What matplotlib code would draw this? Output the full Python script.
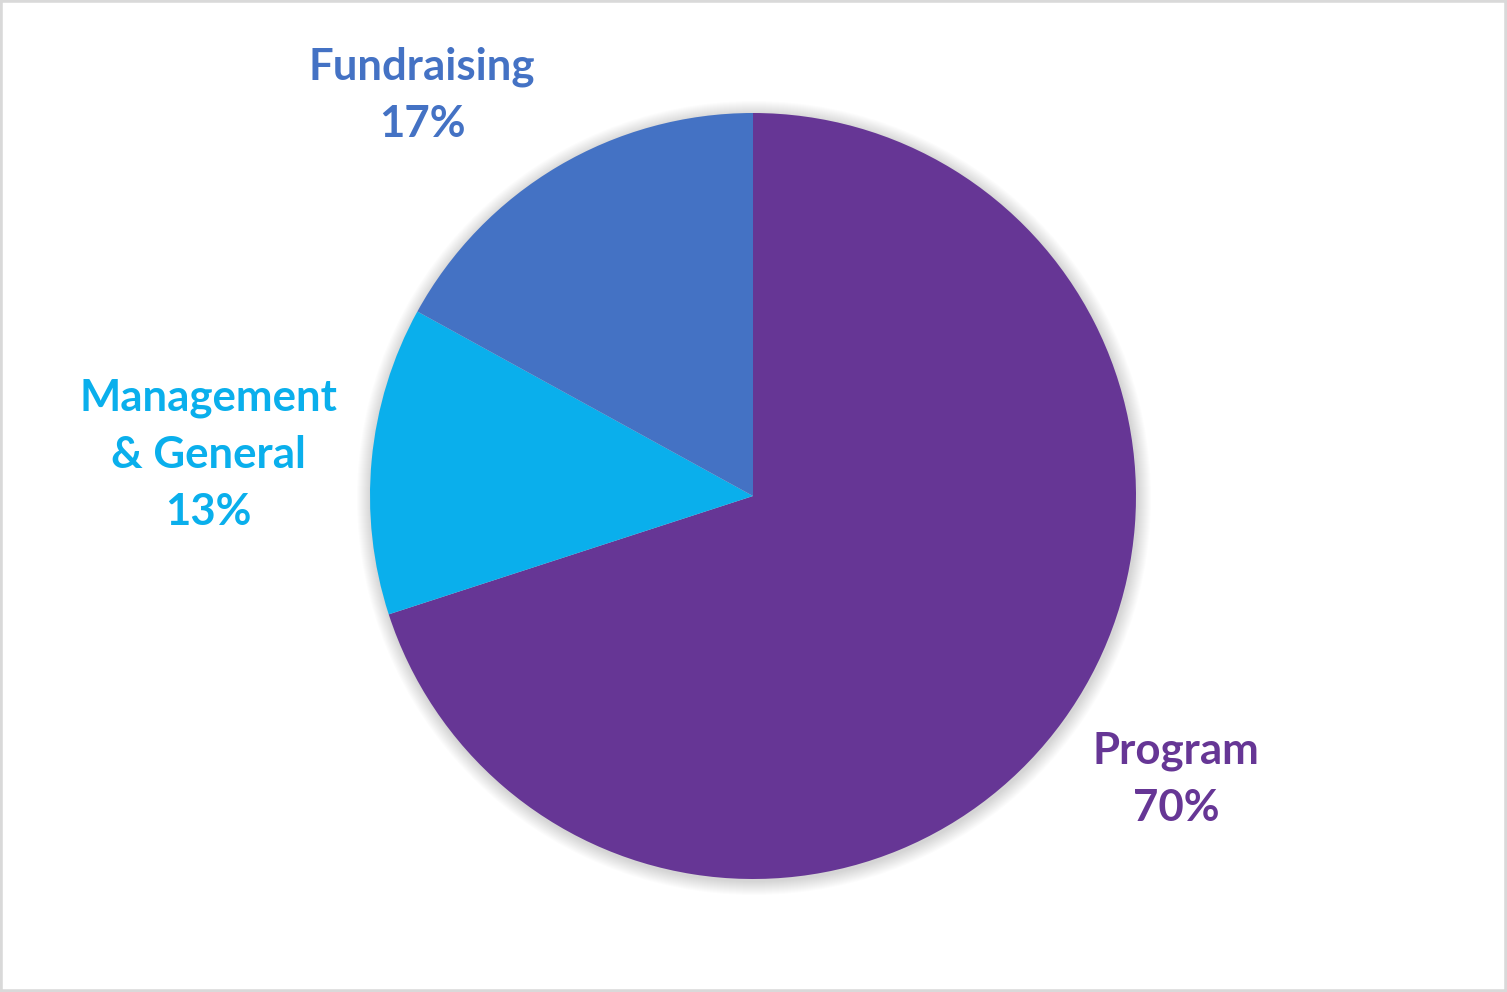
import matplotlib
matplotlib.use("Agg")
import matplotlib.pyplot as plt
from matplotlib.patches import Circle, Rectangle

# Data
categories = ["Program", "Management\n& General", "Fundraising"]
values = [70, 13, 17]
colors = ["#663695", "#0AAFEC", "#4472C4"]

W, H = 1507, 992
fig = plt.figure(figsize=(W / 100, H / 100), dpi=100)
ax = fig.add_axes([0, 0, 1, 1])
ax.set_xlim(0, W)
ax.set_ylim(0, H)
ax.set_aspect("equal")
ax.axis("off")

cx, cy, r = 753, H - 496, 383

# soft shadow
for i in range(14, 0, -1):
    ax.add_patch(Circle((cx + 1, cy - 2), r + i, color="black",
                        alpha=0.012, lw=0, zorder=0))

wedges, _ = ax.pie(values, colors=colors, startangle=90, counterclock=False,
                   center=(cx, cy), radius=r, frame=True,
                   wedgeprops=dict(linewidth=0))
for w in wedges:
    w.set_zorder(2)
ax.set_xlim(0, W)
ax.set_ylim(0, H)
ax.axis("off")

font = dict(family=["Lato", "DejaVu Sans"], fontweight="bold", fontsize=31.5)
# anchor = baseline of the last line
label_pos = {
    "Program": (1176, H - 821),
    "Management\n& General": (208, H - 525),
    "Fundraising": (422, H - 137),
}
for cat, val, col in zip(categories, values, colors):
    x, y = label_pos[cat]
    ax.text(x, y, f"{cat}\n{val}%", ha="center", va="baseline",
            multialignment="center", color=col, linespacing=1.52, **font)

# frame border
fig.patches.append(Rectangle((0, 0), 1, 1, transform=fig.transFigure,
                             fill=False, edgecolor="#D9D9D9", linewidth=4))

fig.savefig("out.png", dpi=100, facecolor="white")
